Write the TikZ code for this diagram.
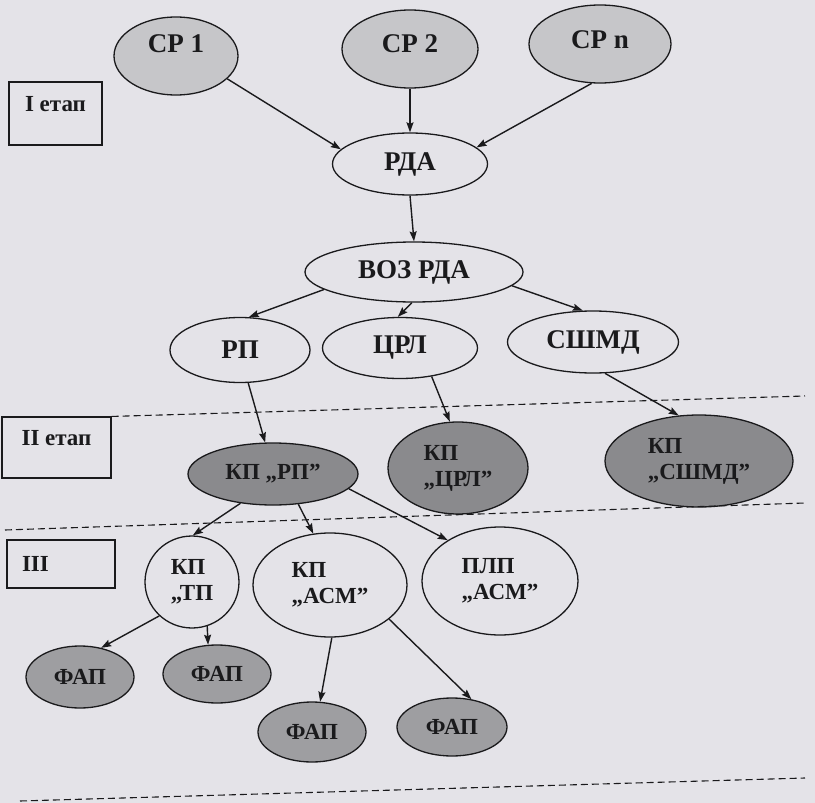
\documentclass[tikz,border=0pt]{standalone}
\usepackage{fontspec}
\setmainfont{Liberation Serif}
\usetikzlibrary{shapes.geometric,arrows.meta}
\definecolor{paper}{HTML}{E4E3E8}
\definecolor{ink}{HTML}{1A1A1C}
\definecolor{lightfill}{HTML}{C6C6C9}
\definecolor{midfill}{HTML}{9E9EA1}
\definecolor{darkfill}{HTML}{8A8A8D}
\begin{document}
\begin{tikzpicture}[x=1pt,y=-1pt,
  oval/.style={ellipse, draw=ink, line width=1.3pt, inner sep=0pt, text=ink, align=left},
  sz/.style 2 args={minimum width=#1pt, minimum height=#2pt},
  big/.style={font=\bfseries\fontsize{27}{29}\selectfont},
  small/.style={font=\bfseries\fontsize{23}{26}\selectfont},
  light/.style={oval, big, fill=lightfill},
  plain/.style={oval, fill=paper},
  dark/.style={oval, small, fill=darkfill},
  mid/.style={oval, small, fill=midfill},
  stagebox/.style={draw=ink, line width=1.1pt, inner sep=0pt, text=ink, font=\bfseries\fontsize{23}{26}\selectfont},
  arr/.style={draw=ink, line width=1.4pt, -{Stealth[length=10pt,width=7pt,inset=1.5pt]}},
  sep/.style={draw=ink, line width=1.1pt, dash pattern=on 7pt off 4pt}
]
% page
\fill[paper] (0,0) rectangle (815,803);
\useasboundingbox (0,0) rectangle (815,803);

% stage I
\node[stagebox, sz={93}{63}] (st1) at (55.5,113.5) {\raisebox{9pt}[\height][\depth]{I етап}};
\node[light, sz={124}{78}] (sr1) at (176,56) {\raisebox{12pt}[\height][\depth]{СР 1}};
\node[light, sz={136}{78}] (sr2) at (410,49) {\raisebox{5pt}[\height][\depth]{СР 2}};
\node[light, sz={142}{78}] (srn) at (600,44) {\raisebox{4pt}[\height][\depth]{СР n}};
\node[plain, big, sz={155}{62}] (rda) at (410,164) {РДА};
\node[plain, big, sz={218}{60}] (voz) at (414,272) {ВОЗ РДА};
\node[plain, big, sz={140}{65}] (rp) at (240,350) {РП};
\node[plain, big, sz={155}{61}] (crl) at (400,348) {ЦРЛ};
\node[plain, big, sz={171}{62}] (sshmd) at (593,342) {СШМД};

\draw[arr] (sr1.-24) -- (rda.168);
\draw[arr] (sr2.south) -- (rda.north);
\draw[arr] (srn.258) -- (rda.14);
\draw[arr] (rda.south) -- (voz.north);
\draw[arr] (voz.191) -- (rp.75);
\draw[arr] (voz.-94) -- (crl.94);
\draw[arr] (voz.-8) -- (sshmd.108);

% stage II
\node[stagebox, sz={109}{61}] (st2) at (56.5,447.5) {\raisebox{9pt}[\height][\depth]{II етап}};
\coordinate (d1e) at (805,396);
\draw[sep] (st2.north east) -- (d1e);

\node[dark, sz={170}{62}] (kprp) at (273,474) {КП „РП”};
\node[dark, sz={140}{92}] (kpcrl) at (458,468) {КП\\„ЦРЛ”};
\node[dark, sz={188}{92}] (kpsshmd) at (699,461) {КП\\„СШМД”};

\draw[arr] (rp.-76) -- (kprp.104);
\draw[arr] (crl.-42) -- (kpcrl.100);
\draw[arr] (sshmd.-69) -- (kpsshmd.114);

% stage III
\coordinate (d2s) at (5,530);
\coordinate (d2e) at (805,503);
\draw[sep] (d2s) -- (d2e);
\node[stagebox, minimum height=48pt, text width=78pt, inner xsep=15pt, align=left] (st3) at (61,564) {III};

\node[plain, small, sz={94}{92}] (kptp) at (192,582) {КП\\„ТП};
\node[plain, small, sz={154}{104}] (kpasm) at (330,585) {КП\\„АСМ”};
\node[plain, small, sz={156}{108}] (plp) at (500,581) {ПЛП\\„АСМ”};

\draw[arr] (kprp.222) -- (kptp.89);
\draw[arr] (kprp.-50) -- (kpasm.108);
\draw[arr] (kprp.-11) -- (plp.142);

\node[mid, sz={108}{62}] (fap1) at (80,677) {ФАП};
\node[mid, sz={108}{58}] (fap2) at (217,674) {ФАП};
\node[mid, sz={108}{60}] (fap3) at (312,732) {ФАП};
\node[mid, sz={110}{58}] (fap4) at (452,727) {ФАП};

\draw[arr] (kptp.226) -- (fap1.54);
\draw[arr] (kptp.-71) -- (fap2.107);
\draw[arr] (kpasm.-88) -- (fap3.75);
\draw[arr] (kpasm.-30) -- (fap4.55);

\coordinate (d3s) at (20,801);
\coordinate (d3e) at (805,778);
\draw[sep] (d3s) -- (d3e);
\end{tikzpicture}
\end{document}
